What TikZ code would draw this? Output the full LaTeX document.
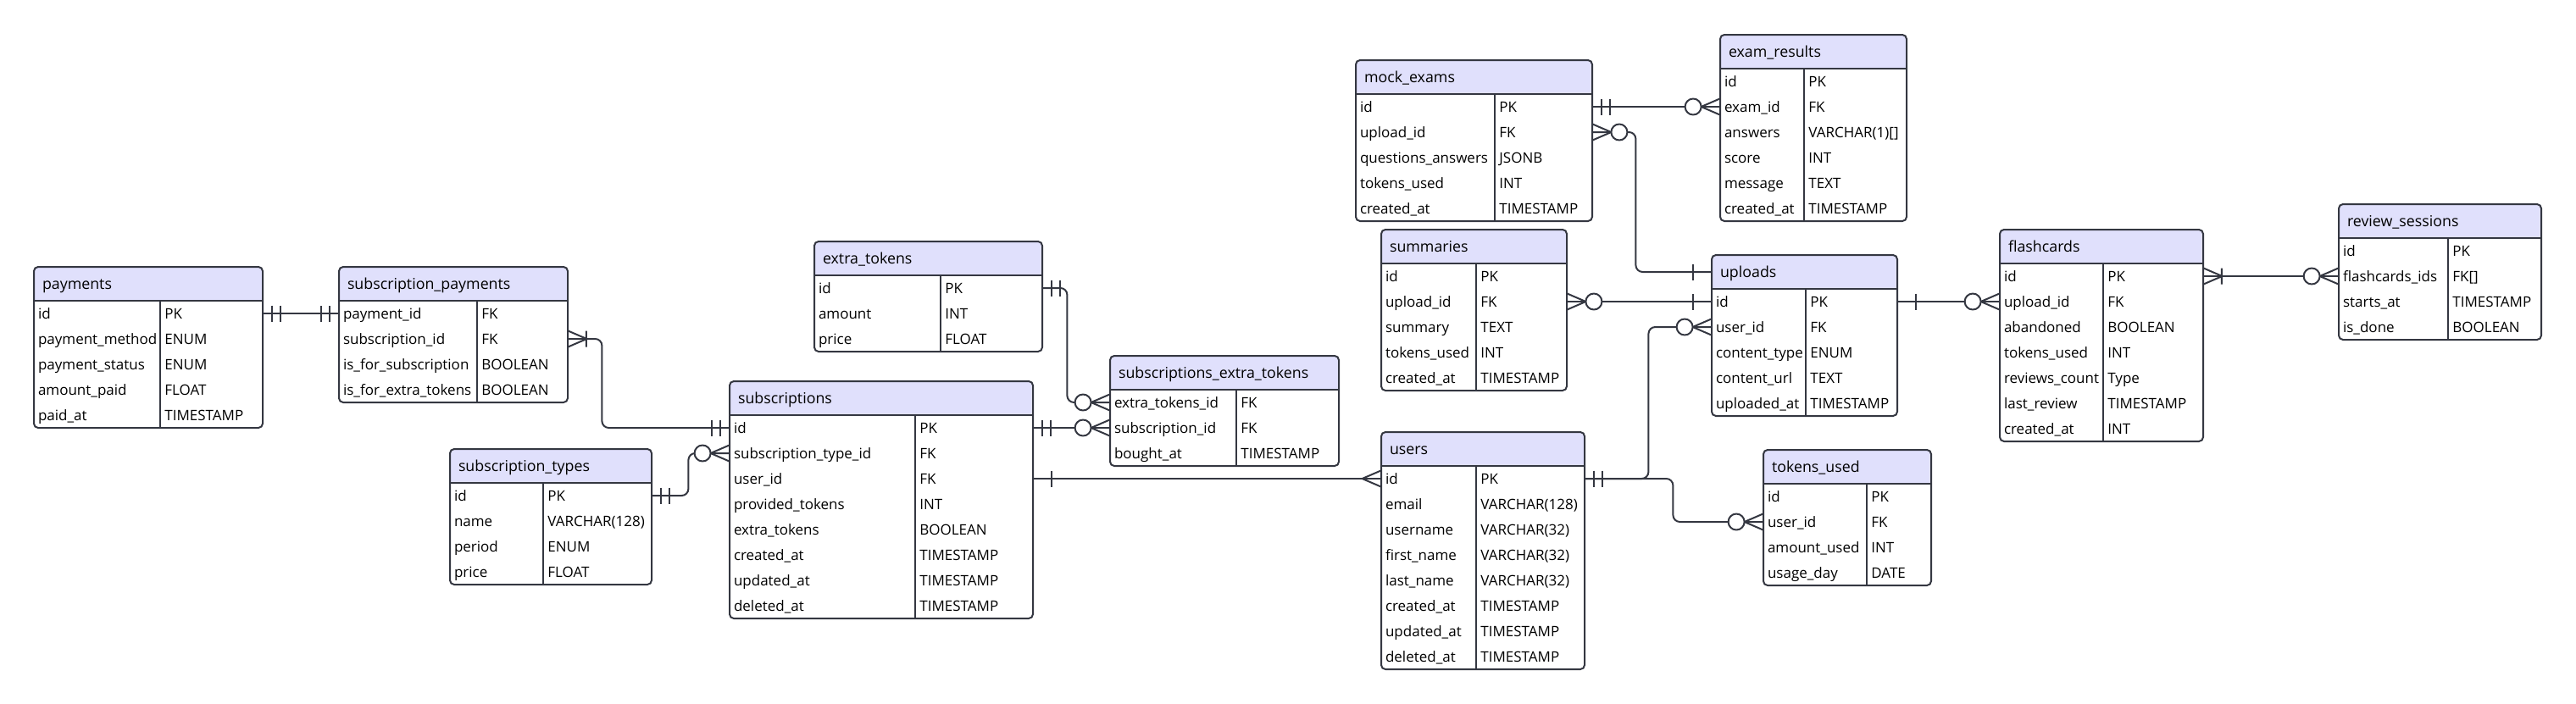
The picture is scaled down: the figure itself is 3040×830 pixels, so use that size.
\documentclass[tikz,border=0pt]{standalone}
\usepackage{fontspec}
\setmainfont{Open Sans}
\usetikzlibrary{arrows.meta}

\definecolor{erline}{RGB}{52,55,65}
\definecolor{erhead}{RGB}{224,224,252}

\newcommand{\entrowfont}{\fontsize{8.5pt}{10pt}\selectfont}
\newcommand{\enttitlefont}{\fontsize{8.9pt}{10pt}\selectfont}

% crow's foot ends, drawn back from the table edge
\pgfdeclarearrow{
  name = erone,
  setup code = {
    \pgfarrowssettipend{0pt}
    \pgfarrowssetlineend{0pt}
    \pgfarrowssetbackend{-11pt}
    \pgfarrowssetvisualbackend{-11pt}
    \pgfarrowsupperhullpoint{0pt}{5pt}
    \pgfarrowsupperhullpoint{-11pt}{5pt}
  },
  drawing code = {
    \pgfsetlinewidth{1pt}
    \pgfpathmoveto{\pgfqpoint{-10.75pt}{-4.75pt}}
    \pgfpathlineto{\pgfqpoint{-10.75pt}{4.75pt}}
    \pgfusepathqstroke
  }
}
\pgfdeclarearrow{
  name = eronly,
  setup code = {
    \pgfarrowssettipend{0pt}
    \pgfarrowssetlineend{0pt}
    \pgfarrowssetbackend{-11pt}
    \pgfarrowssetvisualbackend{-11pt}
    \pgfarrowsupperhullpoint{0pt}{5pt}
    \pgfarrowsupperhullpoint{-11pt}{5pt}
  },
  drawing code = {
    \pgfsetlinewidth{1pt}
    \pgfpathmoveto{\pgfqpoint{-5.5pt}{-4.75pt}}
    \pgfpathlineto{\pgfqpoint{-5.5pt}{4.75pt}}
    \pgfpathmoveto{\pgfqpoint{-10.5pt}{-4.75pt}}
    \pgfpathlineto{\pgfqpoint{-10.5pt}{4.75pt}}
    \pgfusepathqstroke
  }
}
\pgfdeclarearrow{
  name = ermany,
  setup code = {
    \pgfarrowssettipend{0pt}
    \pgfarrowssetlineend{0pt}
    \pgfarrowssetbackend{-11pt}
    \pgfarrowssetvisualbackend{-11pt}
    \pgfarrowsupperhullpoint{0pt}{5pt}
    \pgfarrowsupperhullpoint{-11pt}{5pt}
  },
  drawing code = {
    \pgfsetlinewidth{1pt}
    \pgfsetroundjoin
    \pgfpathmoveto{\pgfqpoint{0pt}{4.75pt}}
    \pgfpathlineto{\pgfqpoint{-11pt}{0pt}}
    \pgfpathlineto{\pgfqpoint{0pt}{-4.75pt}}
    \pgfusepathqstroke
  }
}
\pgfdeclarearrow{
  name = eronemany,
  setup code = {
    \pgfarrowssettipend{0pt}
    \pgfarrowssetlineend{0pt}
    \pgfarrowssetbackend{-11pt}
    \pgfarrowssetvisualbackend{-11pt}
    \pgfarrowsupperhullpoint{0pt}{5pt}
    \pgfarrowsupperhullpoint{-11pt}{5pt}
  },
  drawing code = {
    \pgfsetlinewidth{1pt}
    \pgfsetroundjoin
    \pgfpathmoveto{\pgfqpoint{0pt}{4.75pt}}
    \pgfpathlineto{\pgfqpoint{-11pt}{0pt}}
    \pgfpathlineto{\pgfqpoint{0pt}{-4.75pt}}
    \pgfpathmoveto{\pgfqpoint{-10.75pt}{-4.75pt}}
    \pgfpathlineto{\pgfqpoint{-10.75pt}{4.75pt}}
    \pgfusepathqstroke
  }
}
\pgfdeclarearrow{
  name = erzeromany,
  setup code = {
    \pgfarrowssettipend{0pt}
    \pgfarrowssetlineend{0pt}
    \pgfarrowssetbackend{-21pt}
    \pgfarrowssetvisualbackend{-21pt}
    \pgfarrowsupperhullpoint{0pt}{5pt}
    \pgfarrowsupperhullpoint{-21pt}{5pt}
  },
  drawing code = {
    \pgfsetlinewidth{1pt}
    \pgfsetroundjoin
    \pgfpathmoveto{\pgfqpoint{0pt}{4.75pt}}
    \pgfpathlineto{\pgfqpoint{-11pt}{0pt}}
    \pgfpathlineto{\pgfqpoint{0pt}{-4.75pt}}
    \pgfusepathqstroke
    \pgfsetfillcolor{white}
    \pgfpathcircle{\pgfqpoint{-15.75pt}{0pt}}{4.75pt}
    \pgfusepathqfillstroke
  }
}

\tikzstyle{rowcell}=[inner xsep=2.5pt, inner ysep=0pt, minimum height=15pt, align=left, font=\entrowfont, text height=6.9pt, text depth=0.5pt]
\tikzstyle{typecell}=[anchor=west, inner sep=0pt, font=\entrowfont, text height=6.9pt, text depth=0.5pt]
\tikzstyle{tabtitle}=[inner xsep=5pt, inner ysep=0pt, minimum height=20pt, align=left, font=\enttitlefont, text height=7.2pt, text depth=0.5pt]
\tikzstyle{tabline}=[draw=erline, line width=1pt]
\tikzstyle{rel}=[draw=erline, line width=1pt, rounded corners=4pt]

% #1 name, #2 left, #3 top, #4 field column, #5 type column, #6 title, #7 rows
\newcommand{\entity}[7]{%
  \pgfmathsetmacro\entw{#4+#5}
  \pgfmathsetlengthmacro\entrowtw{(#4+#5-10)*0.5pt}
  \pgfmathsetlengthmacro\enttitletw{(#4+#5-20)*0.5pt}
  \foreach \fname/\ftype [count=\k] in {#7} {
    \pgfmathsetmacro\ery{#3+25+30*\k}
    \node[rowcell, text width=\entrowtw] (#1-\k) at (#2+\entw/2, \ery) {\fname};
    \node[typecell] (#1-\k-type) at (#2+#4+5, \ery) {\ftype};
    \xdef\entrows{\k}
  }
  \pgfmathsetmacro\enth{40+30*\entrows}
  \begin{scope}
    \clip[rounded corners=2.5pt] (#2,#3) rectangle ++(\entw,\enth);
    \fill[erhead] (#2,#3) rectangle ++(\entw,40);
  \end{scope}
  \node[tabtitle, text width=\enttitletw] (#1) at (#2+\entw/2, #3+20) {#6};
  \draw[tabline] (#2,#3+40) -- ++(\entw,0);
  \draw[tabline] (#2+#4,#3+40) -- ++(0,\enth-40);
  \draw[tabline, rounded corners=2.5pt] (#2,#3) rectangle ++(\entw,\enth);
}

\begin{document}
\begin{tikzpicture}[x=0.5pt, y=-0.5pt]
\useasboundingbox (0,0) rectangle (3040,830);

% tables
\entity{payments}{40}{315}{149}{121}{payments}{id/PK, payment\_method/ENUM, payment\_status/ENUM, amount\_paid/FLOAT, paid\_at/TIMESTAMP}
\entity{subpayments}{400}{315}{163}{107}{subscription\_payments}{payment\_id/FK, subscription\_id/FK, is\_for\_subscription/BOOLEAN, is\_for\_extra\_tokens/BOOLEAN}
\entity{subtypes}{531}{530}{110}{128}{subscription\_types}{id/PK, name/VARCHAR(128), period/ENUM, price/FLOAT}
\entity{subscriptions}{861}{450}{219}{139}{subscriptions}{id/PK, subscription\_type\_id/FK, user\_id/FK, provided\_tokens/INT, extra\_tokens/BOOLEAN, created\_at/TIMESTAMP, updated\_at/TIMESTAMP, deleted\_at/TIMESTAMP}
\entity{extratokens}{961}{285}{149}{120}{extra\_tokens}{id/PK, amount/INT, price/FLOAT}
\entity{subextratokens}{1310}{420}{149}{121}{subscriptions\_extra\_tokens}{extra\_tokens\_id/FK, subscription\_id/FK, bought\_at/TIMESTAMP}
\entity{mockexams}{1600}{71}{164}{115}{mock\_exams}{id/PK, upload\_id/FK, questions\_answers/JSONB, tokens\_used/INT, created\_at/TIMESTAMP}
\entity{examresults}{2030}{41}{99}{121}{exam\_results}{id/PK, exam\_id/FK, answers/VARCHAR(1)[], score/INT, message/TEXT, created\_at/TIMESTAMP}
\entity{summaries}{1630}{271}{112}{107}{summaries}{id/PK, upload\_id/FK, summary/TEXT, tokens\_used/INT, created\_at/TIMESTAMP}
\entity{users}{1630}{510}{112}{128}{users}{id/PK, email/VARCHAR(128), username/VARCHAR(32), first\_name/VARCHAR(32), last\_name/VARCHAR(32), created\_at/TIMESTAMP, updated\_at/TIMESTAMP, deleted\_at/TIMESTAMP}
\entity{uploads}{2020}{301}{111}{108}{uploads}{id/PK, user\_id/FK, content\_type/ENUM, content\_url/TEXT, uploaded\_at/TIMESTAMP}
\entity{tokensused}{2081}{531}{122}{76}{tokens\_used}{id/PK, user\_id/FK, amount\_used/INT, usage\_day/DATE}
\entity{flashcards}{2360}{271}{122}{118}{flashcards}{id/PK, upload\_id/FK, abandoned/BOOLEAN, tokens\_used/INT, reviews\_count/Type, last\_review/TIMESTAMP, created\_at/INT}
\entity{reviewsessions}{2760}{241}{129}{110}{review\_sessions}{id/PK, flashcards\_ids/FK[], starts\_at/TIMESTAMP, is\_done/BOOLEAN}

% relations
\draw[rel, eronly-eronly] (payments-1.east) -- (subpayments-1.west);
\draw[rel, eronemany-eronly] (subpayments-2.east) -- ++(40,0) |- (subscriptions-1.west);
\draw[rel, eronly-erzeromany] (subtypes-1.east) -- ++(43,0) |- (subscriptions-2.west);
\draw[rel, eronly-erzeromany] (extratokens-1.east) -- ++(29,0) |- (subextratokens-1.west);
\draw[rel, eronly-erzeromany] (subscriptions-1.east) -- (subextratokens-2.west);
\draw[rel, erone-ermany] (subscriptions-3.east) -- (users-1.west);
\draw[rel, eronly-erzeromany] (mockexams-1.east) -- (examresults-2.west);
\draw[rel, erzeromany-erone] (mockexams-2.east) -- ++(51,0) |- (uploads.west);
\draw[rel, erzeromany-erone] (summaries-2.east) -- (uploads-1.west);
\draw[rel, eronly-erzeromany] (users-1.east) -- ++(75,0) |- (uploads-2.west);
\draw[rel, eronly-erzeromany] (users-1.east) -- ++(104,0) |- (tokensused-2.west);
\draw[rel, erone-erzeromany] (uploads-1.east) -- (flashcards-2.west);
\draw[rel, eronemany-erzeromany] (flashcards-1.east) -- (reviewsessions-2.west);
\end{tikzpicture}
\end{document}
